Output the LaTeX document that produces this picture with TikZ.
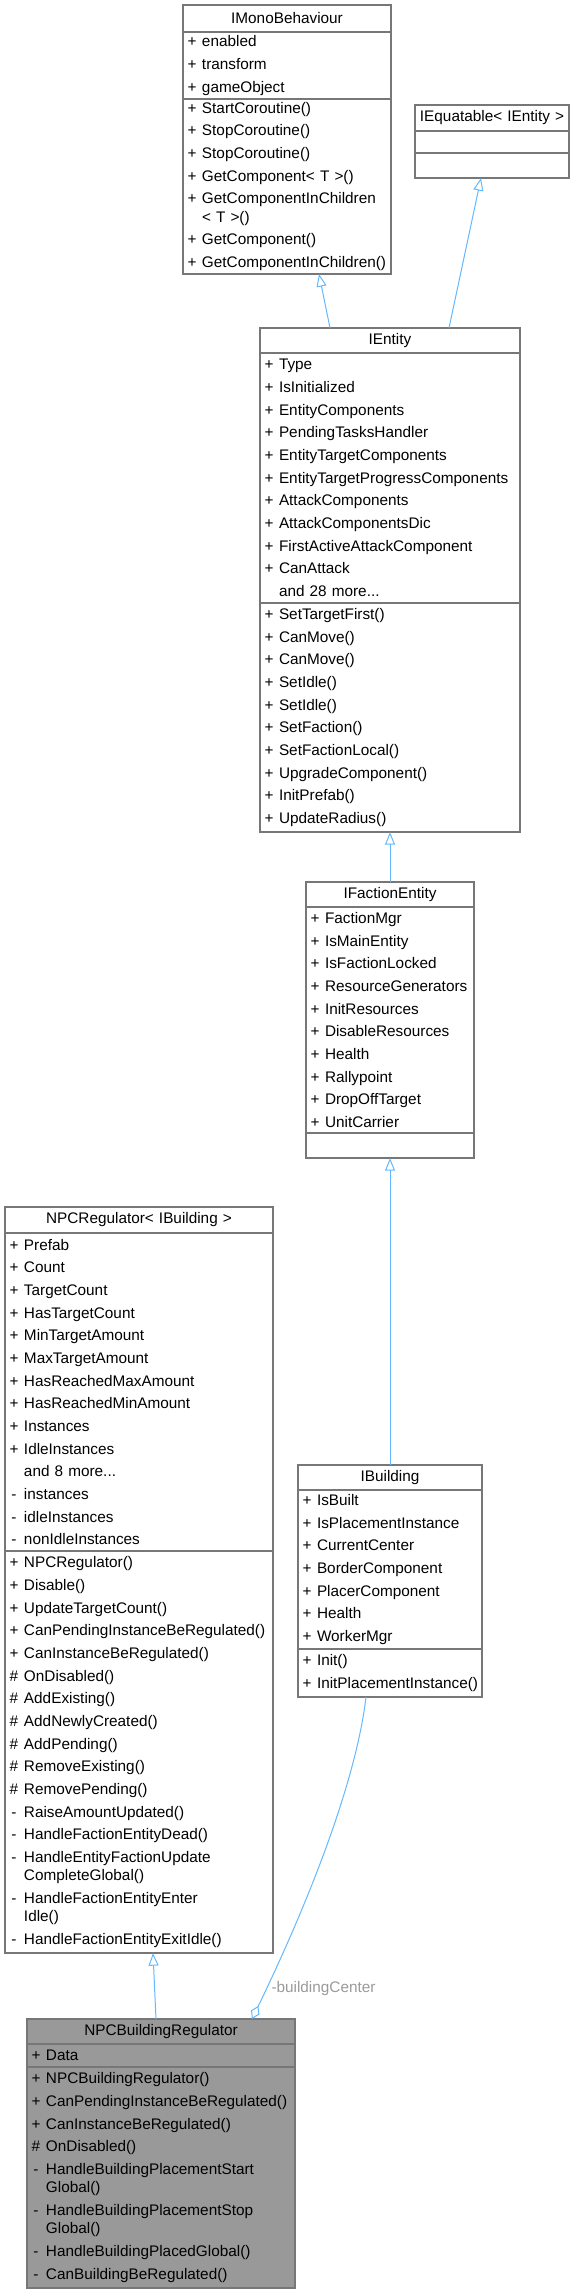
\documentclass[tikz,border=0pt]{standalone}
\usepackage{fontspec}
\setmainfont{Liberation Sans}
\usepackage{xcolor}
\usetikzlibrary{positioning, arrows.meta}

\definecolor{boxline}{HTML}{777777}
\definecolor{curfill}{HTML}{999999}
\definecolor{edgeblue}{HTML}{63B8FF}
\definecolor{lblgray}{HTML}{9A9A9A}

\newcommand{\umlfont}{\fontsize{11.5}{17}\selectfont}
\newcommand{\umlrow}[2]{\mbox{\makebox[10.5pt][c]{#1}\hspace{2.25pt}#2}}
\newcommand{\wrapskip}{\\[-3.3pt]}

\begin{document}
\begin{tikzpicture}[
    x=0.75pt, y=-0.75pt,
    node distance=0pt,
    part/.style={draw=boxline, fill=white, line width=0.9pt, outer sep=0pt, inner xsep=1.5pt, inner ysep=0pt, align=left, anchor=north, font=\umlfont},
    head/.style={part, align=center},
    current/.style={fill=curfill},
    inherit/.style={draw=edgeblue, line width=0.75pt, -{Triangle[open, length=9.5pt, width=7.5pt]}},
    aggr/.style={draw=edgeblue, line width=0.75pt, -{Diamond[open, length=11pt, width=7pt]}},
    lbl/.style={text=lblgray, font=\umlfont}
]
    \useasboundingbox (0,0) rectangle (575,2294);

    % IMonoBehaviour
    \node[head, text width=153pt, minimum height=20.25pt] (monoT) at (287,5) {IMonoBehaviour};
    \node[part, text width=153pt, minimum height=50.25pt, below=of monoT] (monoA) {\umlrow{+}{enabled}\\\umlrow{+}{transform}\\\umlrow{+}{gameObject}};
    \node[part, text width=153pt, minimum height=131.25pt, below=of monoA] (monoM) {\umlrow{+}{StartCoroutine()}\\\umlrow{+}{StopCoroutine()}\\\umlrow{+}{StopCoroutine()}\\\umlrow{+}{GetComponent< T >()}\\\umlrow{+}{GetComponentInChildren}\wrapskip\umlrow{}{< T >()}\\\umlrow{+}{GetComponent()}\\\umlrow{+}{GetComponentInChildren()}};

    % IEquatable
    \node[head, text width=112.5pt, minimum height=19.5pt] (eqT) at (492,105) {IEquatable< IEntity >};
    \node[part, text width=112.5pt, minimum height=16.5pt, below=of eqT] (eqA) {};
    \node[part, text width=112.5pt, minimum height=18.75pt, below=of eqA] (eqM) {};

    % IEntity
    \node[head, text width=192pt, minimum height=18.75pt] (entT) at (390,328) {IEntity};
    \node[part, text width=192pt, minimum height=187.5pt, below=of entT] (entA) {\umlrow{+}{Type}\\\umlrow{+}{IsInitialized}\\\umlrow{+}{EntityComponents}\\\umlrow{+}{PendingTasksHandler}\\\umlrow{+}{EntityTargetComponents}\\\umlrow{+}{EntityTargetProgressComponents}\\\umlrow{+}{AttackComponents}\\\umlrow{+}{AttackComponentsDic}\\\umlrow{+}{FirstActiveAttackComponent}\\\umlrow{+}{CanAttack}\\\umlrow{}{and 28 more...}};
    \node[part, text width=192pt, minimum height=171.75pt, below=of entA] (entM) {\umlrow{+}{SetTargetFirst()}\\\umlrow{+}{CanMove()}\\\umlrow{+}{CanMove()}\\\umlrow{+}{SetIdle()}\\\umlrow{+}{SetIdle()}\\\umlrow{+}{SetFaction()}\\\umlrow{+}{SetFactionLocal()}\\\umlrow{+}{UpgradeComponent()}\\\umlrow{+}{InitPrefab()}\\\umlrow{+}{UpdateRadius()}};

    % IFactionEntity
    \node[head, text width=123pt, minimum height=18.75pt] (facT) at (390,882) {IFactionEntity};
    \node[part, text width=123pt, minimum height=169.5pt, below=of facT] (facA) {\umlrow{+}{FactionMgr}\\\umlrow{+}{IsMainEntity}\\\umlrow{+}{IsFactionLocked}\\\umlrow{+}{ResourceGenerators}\\\umlrow{+}{InitResources}\\\umlrow{+}{DisableResources}\\\umlrow{+}{Health}\\\umlrow{+}{Rallypoint}\\\umlrow{+}{DropOffTarget}\\\umlrow{+}{UnitCarrier}};
    \node[part, text width=123pt, minimum height=18.75pt, below=of facA] (facM) {};

    % NPCRegulator< IBuilding >
    \node[head, text width=198pt, minimum height=19.5pt] (npcT) at (139,1207) {NPCRegulator< IBuilding >};
    \node[part, text width=198pt, minimum height=238.5pt, below=of npcT] (npcA) {\umlrow{+}{Prefab}\\\umlrow{+}{Count}\\\umlrow{+}{TargetCount}\\\umlrow{+}{HasTargetCount}\\\umlrow{+}{MinTargetAmount}\\\umlrow{+}{MaxTargetAmount}\\\umlrow{+}{HasReachedMaxAmount}\\\umlrow{+}{HasReachedMinAmount}\\\umlrow{+}{Instances}\\\umlrow{+}{IdleInstances}\\\umlrow{}{and 8 more...}\\\umlrow{-}{instances}\\\umlrow{-}{idleInstances}\\\umlrow{-}{nonIdleInstances}};
    \node[part, text width=198pt, minimum height=301.5pt, below=of npcA] (npcM) {\umlrow{+}{NPCRegulator()}\\\umlrow{+}{Disable()}\\\umlrow{+}{UpdateTargetCount()}\\\umlrow{+}{CanPendingInstanceBeRegulated()}\\\umlrow{+}{CanInstanceBeRegulated()}\\\umlrow{\#}{OnDisabled()}\\\umlrow{\#}{AddExisting()}\\\umlrow{\#}{AddNewlyCreated()}\\\umlrow{\#}{AddPending()}\\\umlrow{\#}{RemoveExisting()}\\\umlrow{\#}{RemovePending()}\\\umlrow{-}{RaiseAmountUpdated()}\\\umlrow{-}{HandleFactionEntityDead()}\\\umlrow{-}{HandleEntityFactionUpdate}\wrapskip\umlrow{}{CompleteGlobal()}\\\umlrow{-}{HandleFactionEntityEnter}\wrapskip\umlrow{}{Idle()}\\\umlrow{-}{HandleFactionEntityExitIdle()}};

    % IBuilding
    \node[head, text width=135pt, minimum height=18.75pt] (bldT) at (390,1465) {IBuilding};
    \node[part, text width=135pt, minimum height=119.25pt, below=of bldT] (bldA) {\umlrow{+}{IsBuilt}\\\umlrow{+}{IsPlacementInstance}\\\umlrow{+}{CurrentCenter}\\\umlrow{+}{BorderComponent}\\\umlrow{+}{PlacerComponent}\\\umlrow{+}{Health}\\\umlrow{+}{WorkerMgr}};
    \node[part, text width=135pt, minimum height=36pt, below=of bldA] (bldM) {\umlrow{+}{Init()}\\\umlrow{+}{InitPlacementInstance()}};

    % NPCBuildingRegulator
    \node[head, current, text width=198pt, minimum height=18.75pt] (nbrT) at (161,2019) {NPCBuildingRegulator};
    \node[part, current, text width=198pt, minimum height=17.25pt, below=of nbrT] (nbrA) {\umlrow{+}{Data}};
    \node[part, current, text width=198pt, minimum height=165.75pt, below=of nbrA] (nbrM) {\umlrow{+}{NPCBuildingRegulator()}\\\umlrow{+}{CanPendingInstanceBeRegulated()}\\\umlrow{+}{CanInstanceBeRegulated()}\\\umlrow{\#}{OnDisabled()}\\\umlrow{-}{HandleBuildingPlacementStart}\wrapskip\umlrow{}{Global()}\\\umlrow{-}{HandleBuildingPlacementStop}\wrapskip\umlrow{}{Global()}\\\umlrow{-}{HandleBuildingPlacedGlobal()}\\\umlrow{-}{CanBuildingBeRegulated()}};

    % Inheritance
    \draw[inherit] ([xshift=-45pt]entT.north) -- ([xshift=24pt]monoM.south);
    \draw[inherit] ([xshift=44.25pt]entT.north) -- ([xshift=-8.25pt]eqM.south);
    \draw[inherit] (facT.north) -- (entM.south);
    \draw[inherit] (bldT.north) -- (facM.south);
    \draw[inherit] ([xshift=-3.75pt]nbrT.north) -- ([xshift=10.5pt]npcM.south);

    % Aggregation
    \draw[aggr] ([xshift=-18pt]bldM.south) .. controls +(-11,93) and +(48,-99) .. node[lbl, pos=0.9, anchor=west] (bcLabel) {-buildingCenter} ([xshift=68.25pt]nbrT.north);
\end{tikzpicture}
\end{document}
